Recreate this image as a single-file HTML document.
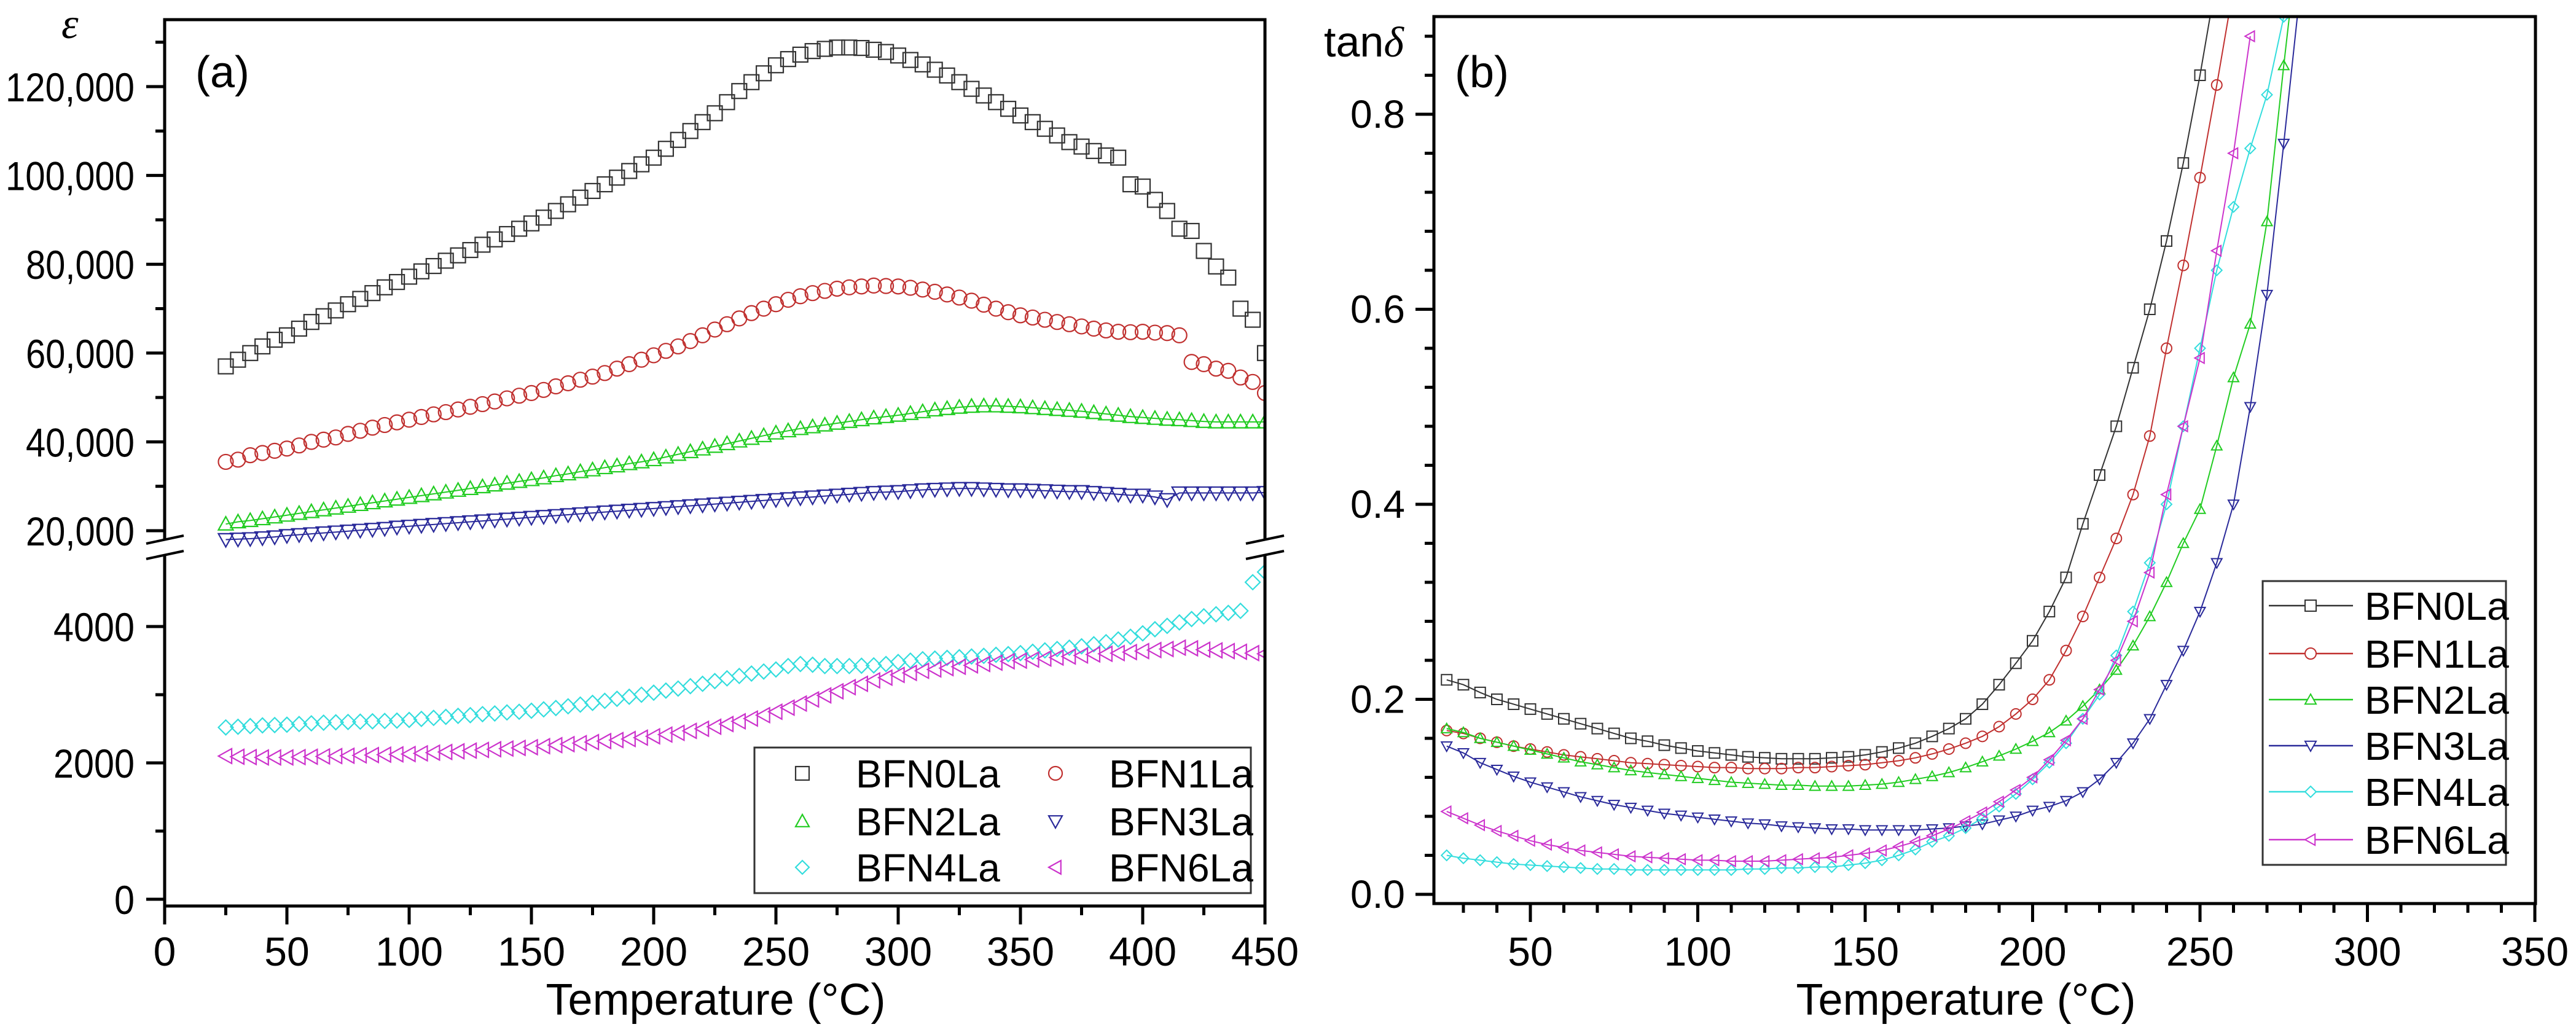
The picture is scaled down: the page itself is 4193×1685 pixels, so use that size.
<!DOCTYPE html>
<html><head><meta charset="utf-8"><style>
html,body{margin:0;padding:0;background:#fff}
svg{display:block;font-family:"Liberation Sans",sans-serif}
</style></head><body>
<svg id="fig" width="4193" height="1685" viewBox="0 0 4193 1685" xmlns="http://www.w3.org/2000/svg">
<defs>
<clipPath id="clipA"><rect x="268" y="32" width="1791" height="1443"/></clipPath>
<clipPath id="clipB"><rect x="2334" y="27" width="1793" height="1444"/></clipPath>
</defs>
<g id="panelA"></g>
<g id="panelB"></g>
</svg>
<script>
// ---------- Panel (a) data ----------
const tempsA = [25,30,35,40,45,50,55,60,65,70,75,80,85,90,95,100,105,110,115,120,125,130,135,140,145,150,155,160,165,170,175,180,185,190,195,200,205,210,215,220,225,230,235,240,245,250,255,260,265,270,275,280,285,290,295,300,305,310,315,320,325,330,335,340,345,350,355,360,365,370,375,380,385,390,395,400,405,410,415,420,425,430,435,440,445,450];
const epsBFN0 = [57000,58500,60000,61500,63000,64000,65500,67000,68300,69600,71000,72200,73500,74800,76000,77200,78400,79600,80800,82000,83200,84400,85600,86800,88000,89200,90500,92000,93500,95000,96500,98000,99500,101000,102500,104000,106000,108000,110000,112000,114000,116500,119000,121000,123000,124800,126200,127200,128000,128500,128800,128800,128700,128300,127800,127000,126000,125000,123800,122500,121000,119500,118000,116500,115000,113500,112000,110500,109000,107500,106500,105500,104500,104000,98000,97500,94500,92000,88000,87500,83000,79500,77000,70000,67500,60000];
const epsBFN1 = [35500,36000,37000,37500,38000,38500,39200,40000,40500,41000,41800,42500,43200,43800,44400,45000,45600,46200,46700,47300,47900,48500,49100,49800,50400,51000,51700,52500,53200,54000,54700,55500,56500,57500,58500,59500,60500,61500,62700,64000,65300,66500,67800,69000,70000,71000,72000,72800,73500,74000,74500,74800,75000,75200,75100,75000,74700,74300,73800,73200,72500,71800,70900,70000,69200,68500,68000,67500,67000,66500,66000,65500,65100,64800,64700,64800,64600,64500,64000,58000,57500,56500,56000,54500,53500,51000];
const epsBFN2 = [21500,22000,22300,22700,23100,23500,23900,24300,24700,25100,25500,25900,26300,26700,27100,27500,27900,28300,28700,29100,29500,29900,30300,30700,31100,31500,31900,32400,32800,33300,33700,34200,34600,35100,35500,36000,36600,37200,37800,38400,39000,39600,40200,40800,41400,42000,42500,43000,43400,43800,44200,44600,45000,45400,45700,46000,46400,46800,47200,47500,47800,48000,48100,48100,48000,47900,47700,47500,47300,47100,46900,46600,46300,46000,45700,45500,45300,45100,45000,44800,44600,44500,44500,44500,44500,44500];
const epsBFN3 = [18000,18100,18200,18400,18600,18900,19100,19300,19500,19700,19900,20100,20300,20500,20800,21000,21200,21400,21600,21800,22000,22200,22400,22600,22800,23000,23200,23400,23600,23800,24000,24200,24400,24600,24800,25000,25200,25400,25600,25800,26000,26200,26400,26600,26800,27000,27200,27400,27600,27800,28000,28200,28400,28600,28700,28800,29000,29200,29300,29400,29500,29500,29400,29300,29200,29200,29100,29000,28900,28800,28800,28600,28400,28200,28000,28000,27600,27000,28500,28500,28500,28500,28500,28500,28500,28600];
const epsBFN4 = [2520,2530,2540,2550,2555,2560,2570,2580,2590,2595,2600,2605,2610,2615,2620,2630,2645,2660,2675,2690,2700,2715,2725,2740,2750,2765,2785,2805,2830,2855,2880,2910,2940,2970,3000,3030,3060,3090,3125,3160,3200,3240,3275,3310,3340,3370,3420,3450,3440,3420,3420,3420,3425,3430,3450,3480,3500,3520,3530,3540,3550,3560,3570,3585,3595,3610,3630,3650,3670,3690,3710,3740,3770,3810,3850,3900,3960,4010,4060,4110,4150,4180,4200,4230,4650,4800];
const epsBFN6 = [2100,2090,2085,2080,2080,2080,2085,2090,2095,2100,2105,2110,2115,2120,2125,2130,2140,2150,2160,2170,2180,2190,2200,2210,2220,2230,2245,2260,2275,2290,2305,2320,2335,2350,2370,2390,2415,2440,2470,2500,2530,2570,2610,2650,2700,2750,2810,2870,2930,2990,3050,3110,3160,3210,3250,3290,3320,3350,3370,3390,3410,3430,3450,3470,3490,3500,3515,3530,3545,3560,3575,3590,3600,3610,3625,3640,3655,3670,3690,3680,3660,3650,3640,3630,3610,3600];
const xTicksA = [0,50,100,150,200,250,300,350,400,450];
const yTicksAUpper = [20000,40000,60000,80000,100000,120000];
const yTickLabelsAUpper = ["20,000","40,000","60,000","80,000","100,000","120,000"];
const yTicksALower = [0,2000,4000];
const yTickLabelsALower = ["0","2000","4000"];

// ---------- Panel (b) data ----------
const tempsB = [25,30,35,40,45,50,55,60,65,70,75,80,85,90,95,100,105,110,115,120,125,130,135,140,145,150,155,160,165,170,175,180,185,190,195,200,205,210,215,220,225,230,235,240,245,250,255,260,265,270,275,280];
const tanBFN0 = [.22,.215,.207,.2,.195,.19,.185,.18,.175,.17,.165,.16,.157,.153,.15,.147,.145,.143,.141,.14,.139,.139,.139,.14,.141,.143,.146,.15,.155,.162,.17,.18,.195,.215,.237,.26,.29,.325,.38,.43,.48,.54,.6,.67,.75,.84,.94];
const tanBFN1 = [.168,.165,.16,.156,.152,.149,.146,.143,.141,.139,.137,.135,.134,.133,.132,.131,.13,.13,.129,.129,.129,.13,.13,.131,.132,.133,.135,.137,.14,.144,.149,.155,.162,.172,.185,.2,.22,.25,.285,.325,.365,.41,.47,.56,.645,.735,.83,.93];
const tanBFN2 = [.17,.166,.16,.156,.152,.148,.144,.14,.136,.133,.13,.127,.125,.123,.121,.119,.117,.115,.114,.113,.112,.112,.111,.111,.111,.112,.113,.115,.118,.121,.125,.13,.136,.142,.149,.157,.166,.178,.193,.21,.23,.255,.285,.32,.36,.395,.46,.53,.585,.69,.85,1.0];
const tanBFN3 = [.152,.145,.135,.128,.121,.115,.11,.105,.1,.096,.092,.089,.086,.083,.081,.079,.077,.075,.073,.072,.07,.069,.068,.067,.067,.066,.066,.066,.066,.067,.068,.07,.072,.076,.08,.086,.09,.096,.105,.118,.135,.155,.18,.215,.25,.29,.34,.4,.5,.615,.77,.93];
const tanBFN4 = [.04,.037,.035,.033,.031,.03,.029,.028,.027,.026,.026,.025,.025,.025,.025,.025,.025,.025,.026,.026,.027,.027,.028,.028,.03,.032,.035,.04,.046,.054,.06,.068,.078,.09,.103,.118,.135,.155,.18,.205,.245,.29,.34,.4,.48,.56,.64,.705,.765,.82,.9];
const tanBFN6 = [.085,.078,.071,.065,.06,.055,.051,.048,.045,.043,.041,.039,.038,.037,.036,.035,.035,.034,.034,.034,.035,.036,.037,.038,.04,.042,.045,.049,.054,.06,.067,.075,.084,.095,.107,.12,.138,.158,.18,.21,.24,.28,.33,.41,.48,.55,.66,.76,.88];
const xTicksB = [50,100,150,200,250,300,350];
const yTicksB = [0,0.2,0.4,0.6,0.8];
const yTickLabelsB = ["0.0","0.2","0.4","0.6","0.8"];

const NS = "http://www.w3.org/2000/svg";
function mk(tag, attrs, parent){ const e=document.createElementNS(NS,tag); for(const k in attrs) e.setAttribute(k,attrs[k]); parent.appendChild(e); return e; }

function xA(t){ return 268 + t*3.98; }
function yA(v){ return v >= 10000 ? 864 - (v-20000)*144.6/20000 : 1464 - v*0.111; }
function xB(t){ return 2491 + (t-50)*5.45; }
function yB(v){ return 1456 - v*1587.5; }

function marker(g, type, x, y, s, color, sw){
  const h=s/2; let el;
  if(type==='square') el = mk('rect',{x:x-h,y:y-h,width:s,height:s},g);
  else if(type==='circle') el = mk('circle',{cx:x,cy:y,r:h},g);
  else if(type==='up') el = mk('polygon',{points:`${x},${y-h} ${x+h},${y+h*0.8} ${x-h},${y+h*0.8}`},g);
  else if(type==='down') el = mk('polygon',{points:`${x},${y+h} ${x+h},${y-h*0.8} ${x-h},${y-h*0.8}`},g);
  else if(type==='diamond') el = mk('polygon',{points:`${x},${y-h} ${x+h},${y} ${x},${y+h} ${x-h},${y}`},g);
  else el = mk('polygon',{points:`${x-h},${y} ${x+h*0.8},${y-h} ${x+h*0.8},${y+h}`},g);
  el.setAttribute('fill','none'); el.setAttribute('stroke',color); el.setAttribute('stroke-width',sw);
  return el;
}

const seriesA = [
 {name:'BFN0La', vals:epsBFN0, type:'square', color:'#333333', line:false},
 {name:'BFN1La', vals:epsBFN1, type:'circle', color:'#c0302f', line:false},
 {name:'BFN2La', vals:epsBFN2, type:'up', color:'#22cc22', line:true},
 {name:'BFN3La', vals:epsBFN3, type:'down', color:'#2a2a9a', line:true},
 {name:'BFN4La', vals:epsBFN4, type:'diamond', color:'#33dddd', line:false},
 {name:'BFN6La', vals:epsBFN6, type:'left', color:'#cc33cc', line:false}
];
const seriesB = [
 {name:'BFN0La', vals:tanBFN0, type:'square', color:'#333333'},
 {name:'BFN1La', vals:tanBFN1, type:'circle', color:'#c0302f'},
 {name:'BFN2La', vals:tanBFN2, type:'up', color:'#22cc22'},
 {name:'BFN3La', vals:tanBFN3, type:'down', color:'#2a2a9a'},
 {name:'BFN4La', vals:tanBFN4, type:'diamond', color:'#33dddd'},
 {name:'BFN6La', vals:tanBFN6, type:'left', color:'#cc33cc'}
];

function text(parent, x, y, str, size, anchor, name){
  const t = mk('text',{x:x,y:y,'font-size':size,'text-anchor':anchor,fill:'#000'},parent);
  t.textContent = str;
  
  
  return t;
}
function labelLen(str){ let w=0; for(const c of str){ w += (c===',') ? 12 : 33; } return w; }

// ---------- Panel A ----------
const A = document.getElementById('panelA');
const dataA = mk('g',{'clip-path':'url(#clipA)'},A);
seriesA.forEach(s=>{
  const g = mk('g',{},dataA);
  
  
  if(s.line){
    const pts = s.vals.map((v,i)=>xA(tempsA[i]).toFixed(1)+','+yA(v).toFixed(1)).join(' ');
    mk('polyline',{points:pts,fill:'none',stroke:s.color,'stroke-width':2},g);
  }
  s.vals.forEach((v,i)=>{
    const m = marker(g, s.type, xA(tempsA[i]), yA(v), 24, s.color, 2.2);
    
    
  });
});
mk('rect',{x:268,y:32,width:1791,height:1443,fill:'none',stroke:'#000','stroke-width':5},A);
function yLabelA(v, str){
  mk('line',{x1:238,x2:268,y1:yA(v),y2:yA(v),stroke:'#000','stroke-width':5},A);
  const t = text(A,219,yA(v)+24,str,66,'end','y-tick-label-a');
  t.setAttribute('textLength', labelLen(str));
  t.setAttribute('lengthAdjust','spacingAndGlyphs');
}
yTicksAUpper.forEach((v,i)=> yLabelA(v, yTickLabelsAUpper[i]));
yTicksALower.forEach((v,i)=> yLabelA(v, yTickLabelsALower[i]));
[30000,50000,70000,90000,110000,130000,1000,3000].forEach(v=>{
  mk('line',{x1:253,x2:268,y1:yA(v),y2:yA(v),stroke:'#000','stroke-width':5},A);
});
xTicksA.forEach(t=>{
  mk('line',{x1:xA(t),x2:xA(t),y1:1475,y2:1505,stroke:'#000','stroke-width':5},A);
  text(A,xA(t),1572,String(t),66,'middle','x-tick-label-a');
});
for(let t=25;t<450;t+=50){ mk('line',{x1:xA(t),x2:xA(t),y1:1475,y2:1490,stroke:'#000','stroke-width':5},A); }
const brk = mk('g',{},A);


[[238,299],[2028,2090]].forEach(([a,b])=>{
  mk('polygon',{points:`${a},${885} ${b},${872} ${b},${897} ${a},${910}`,fill:'#fff',stroke:'none'},brk);
  mk('line',{x1:a,y1:885,x2:b,y2:872,stroke:'#000','stroke-width':4},brk);
  mk('line',{x1:a,y1:910,x2:b,y2:897,stroke:'#000','stroke-width':4},brk);
});
const epsT = text(A,100,62,'ε',70,'start','y-axis-title-a');
epsT.setAttribute('font-family','"Liberation Serif",serif'); epsT.setAttribute('font-style','italic');
text(A,318,142,'(a)',72,'start','panel-label-a');
text(A,1165,1652,'Temperature (°C)',72,'middle','x-axis-title-a');
const LA = mk('g',{},A);


mk('rect',{x:1228,y:1217,width:808,height:237,fill:'#fff',stroke:'#333','stroke-width':3},LA);
const legPosA = [[1306,1259],[1718,1259],[1306,1337],[1718,1337],[1306,1412],[1718,1412]];
seriesA.forEach((s,i)=>{
  const [x,y]=legPosA[i];
  const e = mk('g',{},LA);
  
  
  marker(e, s.type, x, y, 22, s.color, 2.2);
  text(e, x+87, y+23, s.name, 64, 'start', 'legend-label');
});

// ---------- Panel B ----------
const B = document.getElementById('panelB');
const dataB = mk('g',{'clip-path':'url(#clipB)'},B);
seriesB.forEach(s=>{
  const g = mk('g',{},dataB);
  
  
  const pts = s.vals.map((v,i)=>xB(tempsB[i]).toFixed(1)+','+yB(v).toFixed(1)).join(' ');
  mk('polyline',{points:pts,fill:'none',stroke:s.color,'stroke-width':2},g);
  s.vals.forEach((v,i)=>{
    const m = marker(g, s.type, xB(tempsB[i]), yB(v), 17, s.color, 2);
    
    
  });
});
mk('rect',{x:2334,y:27,width:1793,height:1444,fill:'none',stroke:'#000','stroke-width':5},B);
yTicksB.forEach((v,i)=>{
  mk('line',{x1:2304,x2:2334,y1:yB(v),y2:yB(v),stroke:'#000','stroke-width':5},B);
  text(B,2287,yB(v)+22,yTickLabelsB[i],64,'end','y-tick-label-b');
});
for(let k=1;k<=22;k++){ const v=k*0.04; if(Math.abs(v*5-Math.round(v*5))<1e-6) continue;
  mk('line',{x1:2319,x2:2334,y1:yB(v),y2:yB(v),stroke:'#000','stroke-width':5},B); }
xTicksB.forEach(t=>{
  mk('line',{x1:xB(t),x2:xB(t),y1:1471,y2:1501,stroke:'#000','stroke-width':5},B);
  text(B,xB(t),1572,String(t),66,'middle','x-tick-label-b');
});
for(let t=30;t<350;t+=10){ if(t%50===0) continue; mk('line',{x1:xB(t),x2:xB(t),y1:1471,y2:1486,stroke:'#000','stroke-width':5},B); }
const tanT = text(B,2155,92,'tan',70,'start','y-axis-title-b');
const dl = mk('tspan',{'font-family':'"Liberation Serif",serif','font-style':'italic'},tanT); dl.textContent='δ';
text(B,2368,142,'(b)',72,'start','panel-label-b');
text(B,3200,1652,'Temperature (°C)',72,'middle','x-axis-title-b');
const LB = mk('g',{},B);


mk('rect',{x:3683,y:946,width:396,height:462,fill:'#fff',stroke:'#333','stroke-width':3},LB);
const legYB = [986,1064,1139,1214,1289,1367];
seriesB.forEach((s,i)=>{
  const y = legYB[i];
  const e = mk('g',{},LB);
  
  
  mk('line',{x1:3693,x2:3830,y1:y,y2:y,stroke:s.color,'stroke-width':2.5},e);
  const m = marker(e, s.type, 3761, y, 18, s.color, 2);
  m.setAttribute('fill','#fff');
  text(e, 3849, y+23, s.name, 64, 'start', 'legend-label');
});
</script>
</body></html>
